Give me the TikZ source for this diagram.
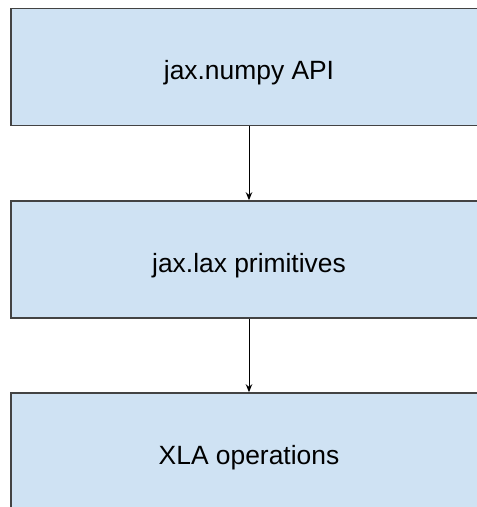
\documentclass[tikz,border=0pt]{standalone}
\usepackage{fontspec}
\setmainfont{Liberation Sans}
\usetikzlibrary{arrows.meta}
\definecolor{boxfill}{HTML}{CFE2F3}
\definecolor{boxline}{HTML}{434343}
\begin{document}
\begin{tikzpicture}[x=1pt,y=1pt,
  layerbox/.style={draw=boxline, line width=1.6pt, fill=boxfill, rectangle,
    minimum width=476pt, minimum height=117pt, inner sep=0pt,
    text height=25pt, text depth=0pt,
    font=\fontsize{26.4}{30}\selectfont},
  flow/.style={line width=1pt, -{Stealth[length=8pt,width=6.5pt]}}]
\useasboundingbox (0,0) rectangle (477,-507);
\node[layerbox] (b1) at (249,-67) {jax.numpy API};
\node[layerbox] (b2) at (249,-259.5) {jax.lax primitives};
\node[layerbox] (b3) at (249,-451.5) {XLA operations};
\draw[flow] (b1.south) -- (b2.north);
\draw[flow] (b2.south) -- (b3.north);
\end{tikzpicture}
\end{document}
